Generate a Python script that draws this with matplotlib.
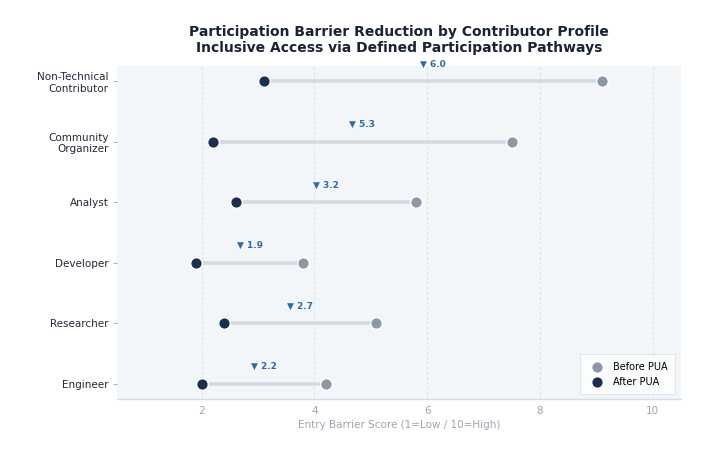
import matplotlib
matplotlib.use("Agg")
import matplotlib.pyplot as plt

categories = ["Engineer", "Researcher", "Developer", "Analyst", "Community\nOrganizer", "Non-Technical\nContributor"]
before = [4.2, 5.1, 3.8, 5.8, 7.5, 9.1]
after = [2.0, 2.4, 1.9, 2.6, 2.2, 3.1]

fig = plt.figure(figsize=(7.19, 4.57), dpi=100)
ax = fig.add_axes([0.163, 0.127, 0.784, 0.729])
ax.set_facecolor("#f3f6f9")

ypos = list(range(len(categories)))
for y, b, a in zip(ypos, before, after):
    ax.plot([a, b], [y, y], color="#d3dae1", lw=2.6, zorder=1, solid_capstyle="butt")
    ax.text((a + b) / 2, y + 0.28, "▼ %.1f" % (b - a), ha="center", va="center",
            fontsize=6.5, fontweight="bold", color="#2f6aa3")

ax.scatter(before, ypos, s=70, color="#8c98a6", edgecolor="white", linewidth=1.0, zorder=3, label="Before PUA")
ax.scatter(after, ypos, s=70, color="#1b2f4f", edgecolor="white", linewidth=1.0, zorder=4, label="After PUA")

ax.set_xlim(0.5, 10.5)
ax.set_ylim(-0.25, 5.25)
ax.set_yticks(ypos)
ax.set_yticklabels(categories, fontsize=7.5, color="#1f2937")
ax.set_xticks([2, 4, 6, 8, 10])
ax.tick_params(axis="x", colors="#9aa4b0", labelsize=7.5, length=0, pad=5)
ax.tick_params(axis="y", color="#9aa4b0", length=3, width=0.6, pad=3)
ax.grid(axis="x", color="#d5dbe2", linestyle="--", linewidth=0.6, dashes=(3, 3))
ax.set_axisbelow(True)
for s in ["top", "right", "left"]:
    ax.spines[s].set_visible(False)
ax.spines["bottom"].set_color("#d5dbe2")
ax.spines["bottom"].set_linewidth(1.0)

ax.set_xlabel("Entry Barrier Score (1=Low / 10=High)", fontsize=7.5, color="#9aa4b0", labelpad=3)
ax.set_title("Participation Barrier Reduction by Contributor Profile\nInclusive Access via Defined Participation Pathways",
             fontsize=10, fontweight="bold", color="#1a2332", pad=10, linespacing=1.2)

leg = ax.legend(loc="lower right", fontsize=7, frameon=True, borderpad=0.5, handletextpad=0.6,
                labelspacing=0.5, bbox_to_anchor=(0.993, 0.008))
leg.get_frame().set_edgecolor("#d5dbe2")
leg.get_frame().set_facecolor("white")
leg.get_frame().set_linewidth(0.6)
leg.get_frame().set_boxstyle("square")

fig.savefig("out.png", dpi=100)
